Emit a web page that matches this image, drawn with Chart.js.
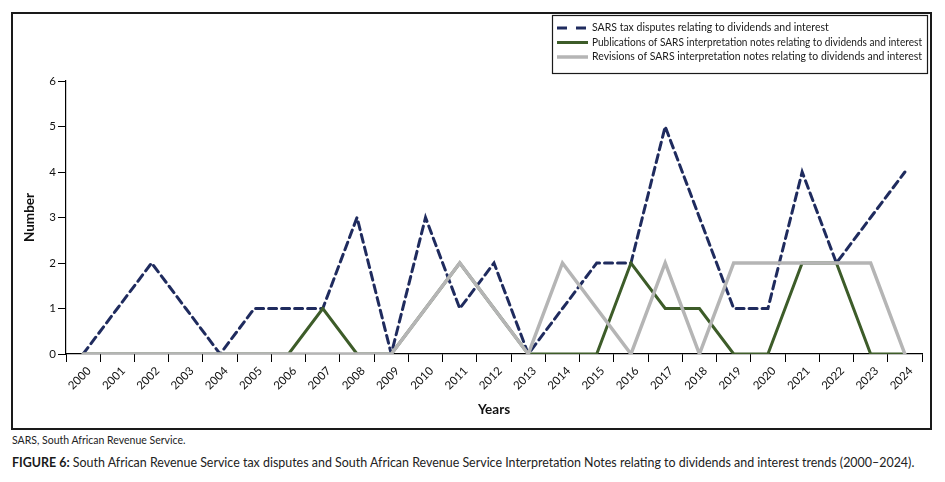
<!DOCTYPE html>
<html>
<head>
<meta charset="utf-8">
<script src="https://cdn.jsdelivr.net/npm/chart.js@4.4.1/dist/chart.umd.min.js"></script>
<style>
    body { margin: 0; background: #fff; font-family: Lato, sans-serif; }
    #marco { position: absolute; left: 11px; top: 12px; width: 917px; height: 414px; border: 2px solid #1a1a1a; }
    #envoltura { position: relative; width: 917px; height: 414px; }
    .nota { position: absolute; left: 12px; top: 434px; font-size: 10.5px; color: #222; white-space: nowrap; }
    .pie { position: absolute; left: 12px; top: 455px; font-size: 12.45px; color: #222; white-space: nowrap; }
    .pie b { font-weight: bold; color: #1a1a1a; }
</style>
</head>
<body>
<div id="marco"><div id="envoltura"><canvas id="grafica"></canvas></div></div>
<div class="nota">SARS, South African Revenue Service.</div>
<div class="pie"><b>FIGURE 6:</b> South African Revenue Service tax disputes and South African Revenue Service Interpretation Notes relating to dividends and interest trends (2000–2024).</div>
<script>
// datos
const anios = ['2000', '2001', '2002', '2003', '2004', '2005', '2006', '2007', '2008', '2009', '2010', '2011', '2012',
    '2013', '2014', '2015', '2016', '2017', '2018', '2019', '2020', '2021', '2022', '2023', '2024'];
const disputas = [0, 1, 2, 1, 0, 1, 1, 1, 3, 0, 3, 1, 2, 0, 1, 2, 2, 5, 3, 1, 1, 4, 2, 3, 4];
const publicaciones = [0, 0, 0, 0, 0, 0, 0, 1, 0, 0, 1, 2, 1, 0, 0, 0, 2, 1, 1, 0, 0, 2, 2, 0, 0];
const revisiones = [0, 0, 0, 0, 0, 0, 0, 0, 0, 0, 1, 2, 1, 0, 2, 1, 0, 2, 0, 2, 2, 2, 2, 2, 0];
const ticksY = [0, 1, 2, 3, 4, 5, 6];

const nombres = [
    'SARS tax disputes relating to dividends and interest',
    'Publications of SARS interpretation notes relating to dividends and interest',
    'Revisions of SARS interpretation notes relating to dividends and interest'
];

// leyenda con caja, dibujada a mano arriba a la derecha
const leyendaCaja = {
    id: 'leyendaCaja',
    afterDraw(chart) {
        const ctx = chart.ctx;
        ctx.save();
        ctx.strokeStyle = '#1a1a1a';
        ctx.lineWidth = 1.2;
        ctx.strokeRect(539.5, 1.5, 375, 58);
        chart.data.datasets.forEach((ds, i) => {
            const y = 14 + i * 14.5;
            ctx.beginPath();
            ctx.setLineDash(ds.borderDash ? [10, 9] : []);
            ctx.strokeStyle = ds.borderColor;
            ctx.lineWidth = ds.borderWidth;
            ctx.moveTo(544, y);
            ctx.lineTo(575, y);
            ctx.stroke();
            ctx.setLineDash([]);
            ctx.fillStyle = '#1a1a1a';
            ctx.font = '10.5px Lato';
            ctx.textBaseline = 'middle';
            ctx.fillText(ds.label, 579, y, 330);
        });
        ctx.restore();
    }
};

const ctx = document.getElementById('grafica');

new Chart(ctx, {
    type: 'line',
    data: {
        labels: anios,
        datasets: [{
            label: nombres[0],
            data: disputas,
            borderColor: '#1f2b5e',
            borderWidth: 3,
            borderDash: [8, 5],
            order: 3
        }, {
            label: nombres[1],
            data: publicaciones,
            borderColor: '#3d5c29',
            borderWidth: 3,
            order: 2
        }, {
            label: nombres[2],
            data: revisiones,
            borderColor: '#b5b5b5',
            borderWidth: 3.5,
            order: 1
        }]
    },
    options: {
        responsive: true,
        maintainAspectRatio: false,
        animation: false,
        elements: {
            point: { radius: 0, hoverRadius: 3 },
            line: { tension: 0, borderCapStyle: 'round', borderJoinStyle: 'miter' }
        },
        layout: {
            padding: { top: 67, right: 8, left: 0, bottom: 0 }
        },
        plugins: {
            legend: { display: false },
            tooltip: { enabled: true }
        },
        scales: {
            x: {
                offset: true,
                afterFit: s => { s.height = 74; },
                grid: {
                    offset: true,
                    drawOnChartArea: false,
                    tickLength: 8,
                    tickColor: '#000'
                },
                border: { display: true, color: '#000', width: 1.2 },
                ticks: {
                    color: '#111',
                    font: { family: 'Lato', size: 11.5 },
                    minRotation: 45,
                    maxRotation: 45,
                    padding: 2,
                    labelOffset: 6,
                    autoSkip: false
                },
                title: {
                    display: true,
                    text: 'Years',
                    color: '#111',
                    font: { family: 'Lato', size: 13.5, weight: 'bold' },
                    padding: { top: 10, bottom: 10 }
                }
            },
            y: {
                min: 0,
                max: 6,
                afterFit: s => { s.width = 53; },
                afterBuildTicks: s => { s.ticks = ticksY.map(v => ({ value: v })); },
                grid: {
                    drawOnChartArea: false,
                    tickLength: 8,
                    tickColor: '#000'
                },
                border: { display: true, color: '#000', width: 1.2 },
                ticks: {
                    color: '#111',
                    font: { family: 'Lato', size: 11.5 },
                    padding: 2
                },
                title: {
                    display: true,
                    text: 'Number',
                    color: '#111',
                    font: { family: 'Lato', size: 13.5, weight: 'bold' },
                    padding: { top: 9, bottom: 9 }
                }
            }
        }
    },
    plugins: [leyendaCaja]
});
</script>
</body>
</html>
